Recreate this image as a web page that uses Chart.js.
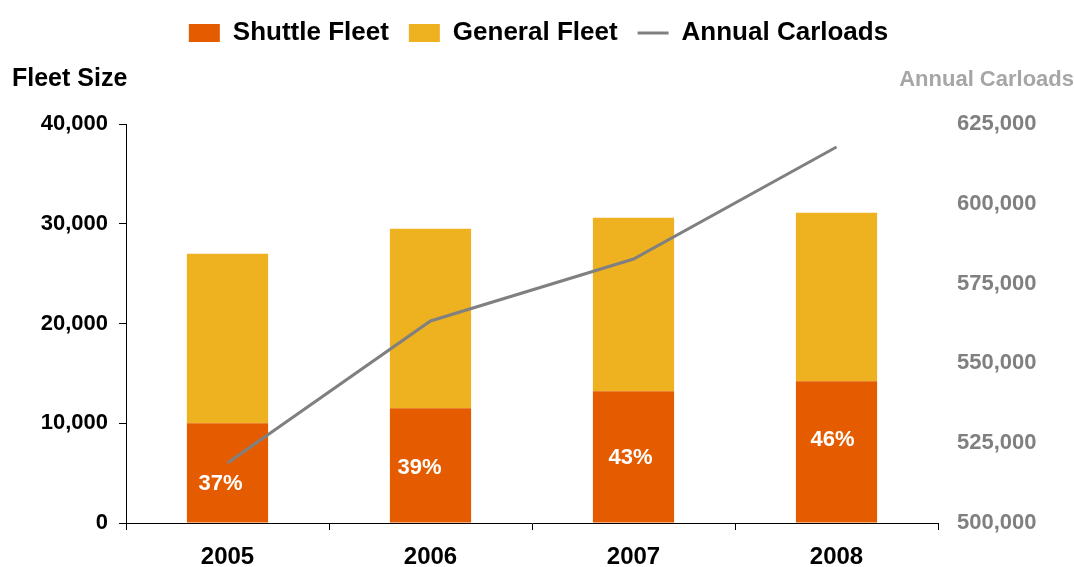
<!DOCTYPE html>
<html>
<head>
<meta charset="utf-8">
<title>Fleet Size and Annual Carloads</title>
<script src="https://cdn.jsdelivr.net/npm/chart.js@4/dist/chart.umd.min.js"></script>
<style>
  html, body { margin: 0; padding: 0; background: #fff; }
  #wrap { width: 1074px; height: 567px; position: relative; }
</style>
</head>
<body>
<div id="wrap"><canvas id="fleet-chart"></canvas></div>
<script>
// --- Data ---
const years = ['2005', '2006', '2007', '2008'];
const shuttleFleet = [10000, 11500, 13200, 14200];
const generalFleet = [17000, 18000, 17400, 16900];
const annualCarloads = [518800, 563300, 582700, 617800];
const fleetTicks = [0, 10000, 20000, 30000, 40000];
const carloadTicks = [500000, 525000, 550000, 575000, 600000, 625000];

// --- Styling ---
const FONT = '"Liberation Sans", Arial, Helvetica, sans-serif';
const SHUTTLE_COLOR = '#E55C00';
const GENERAL_COLOR = '#EEB120';
const LINE_COLOR = '#808080';
// small hand offsets for the share labels inside the shuttle bars
const shareLabelNudge = [[-7, 11], [-11, 3], [-3, 1], [-4, -12]];

Chart.defaults.font.family = FONT;
Chart.defaults.color = '#000';

const fmt = v => Number(v).toLocaleString('en-US');

// Shuttle share of the whole fleet, written inside each orange bar
const shuttleShare = {
  id: 'shuttleShare',
  afterDatasetsDraw(chart) {
    const meta = chart.getDatasetMeta(0);
    const ctx = chart.ctx;
    ctx.save();
    ctx.font = 'bold 22px ' + FONT;
    ctx.fillStyle = '#fff';
    ctx.textAlign = 'center';
    ctx.textBaseline = 'middle';
    meta.data.forEach((bar, i) => {
      const total = shuttleFleet[i] + generalFleet[i];
      const pct = Math.round(shuttleFleet[i] / total * 100) + '%';
      const [dx, dy] = shareLabelNudge[i];
      ctx.fillText(pct, bar.x + dx, (bar.y + bar.base) / 2 + dy);
    });
    ctx.restore();
  }
};

// Axis captions sitting above each value axis
const axisCaptions = {
  id: 'axisCaptions',
  afterDraw(chart) {
    const ctx = chart.ctx;
    ctx.save();
    ctx.textBaseline = 'middle';
    ctx.font = 'bold 25px ' + FONT;
    ctx.fillStyle = '#000';
    ctx.textAlign = 'left';
    ctx.fillText('Fleet Size', 12, 79);
    ctx.font = 'bold 22px ' + FONT;
    ctx.fillStyle = '#A6A6A6';
    ctx.textAlign = 'right';
    ctx.fillText('Annual Carloads', 1074, 80);
    ctx.restore();
  }
};

// Extra room under the legend for the captions
const legendGap = {
  id: 'legendGap',
  beforeLayout(chart) {
    const legend = chart.legend;
    if (!legend || legend._gapPatched) return;
    const fit = legend.fit;
    legend.fit = function () {
      fit.call(this);
      this.height += 68;
    };
    legend._gapPatched = true;
  }
};

new Chart(document.getElementById('fleet-chart'), {
  data: {
    labels: years,
    datasets: [
      {
        type: 'bar',
        label: 'Shuttle Fleet',
        data: shuttleFleet,
        backgroundColor: SHUTTLE_COLOR,
        borderWidth: 0,
        stack: 'fleet',
        yAxisID: 'y',
        order: 1,
        categoryPercentage: 1,
        barPercentage: 0.4
      },
      {
        type: 'bar',
        label: 'General Fleet',
        data: generalFleet,
        backgroundColor: GENERAL_COLOR,
        borderWidth: 0,
        stack: 'fleet',
        yAxisID: 'y',
        order: 1,
        categoryPercentage: 1,
        barPercentage: 0.4
      },
      {
        type: 'line',
        label: 'Annual Carloads',
        data: annualCarloads,
        borderColor: LINE_COLOR,
        backgroundColor: LINE_COLOR,
        borderWidth: 3,
        pointRadius: 0,
        tension: 0,
        yAxisID: 'y1',
        order: 0
      }
    ]
  },
  options: {
    responsive: true,
    maintainAspectRatio: false,
    animation: false,
    layout: { padding: { left: 40, right: 37, top: 0, bottom: 0 } },
    plugins: {
      tooltip: { enabled: false },
      legend: {
        position: 'top',
        labels: {
          usePointStyle: true,
          pointStyleWidth: 31,
          boxHeight: 18,
          padding: 20,
          color: '#000',
          font: { size: 26, weight: 'bold' },
          sort: (a, b) => a.datasetIndex - b.datasetIndex,
          generateLabels(chart) {
            return chart.data.datasets.map((ds, i) => ({
              text: ds.label,
              datasetIndex: i,
              fillStyle: ds.backgroundColor,
              strokeStyle: ds.type === 'line' ? ds.borderColor : ds.backgroundColor,
              lineWidth: ds.type === 'line' ? 3 : 0,
              pointStyle: ds.type === 'line' ? 'line' : 'rect',
              fontColor: '#000',
              hidden: false
            }));
          }
        }
      }
    },
    scales: {
      x: {
        stacked: true,
        offset: true,
        grid: {
          offset: true,
          drawOnChartArea: false,
          drawTicks: true,
          tickLength: 7,
          color: '#000'
        },
        border: { display: true, color: '#000', width: 1 },
        ticks: {
          color: '#000',
          padding: 13,
          font: { size: 24, weight: 'bold' }
        },
        afterFit(scale) { scale.height = 44; }
      },
      y: {
        stacked: true,
        position: 'left',
        min: 0,
        max: 40000,
        afterBuildTicks(scale) { scale.ticks = fleetTicks.map(v => ({ value: v })); },
        grid: {
          drawOnChartArea: false,
          drawTicks: true,
          tickLength: 7,
          color: '#000'
        },
        border: { display: true, color: '#000', width: 1 },
        ticks: {
          color: '#000',
          padding: 11,
          font: { size: 22, weight: 'bold' },
          callback: v => fmt(v)
        },
        afterFit(scale) { scale.width = 86; }
      },
      y1: {
        position: 'right',
        min: 500000,
        max: 625000,
        afterBuildTicks(scale) { scale.ticks = carloadTicks.map(v => ({ value: v })); },
        grid: { display: false, drawOnChartArea: false },
        border: { display: false },
        ticks: {
          color: '#808080',
          padding: 11,
          font: { size: 22, weight: 'bold' },
          callback: v => fmt(v)
        },
        afterFit(scale) { scale.width = 99; }
      }
    }
  },
  plugins: [shuttleShare, axisCaptions, legendGap]
});
</script>
</body>
</html>
